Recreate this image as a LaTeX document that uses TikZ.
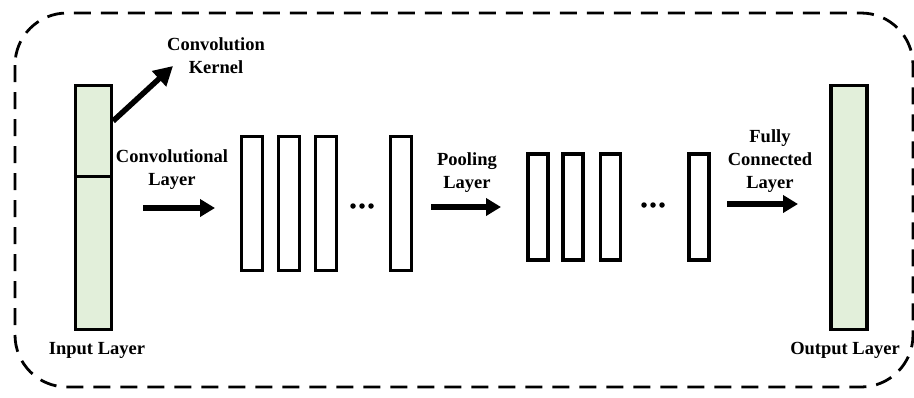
\documentclass[tikz,border=0pt]{standalone}
\usepackage{fontspec}
\setmainfont{Liberation Serif}
\usetikzlibrary{arrows.meta}
\definecolor{layergreen}{HTML}{E2EFDA}
\begin{document}
\begin{tikzpicture}[x=1pt,y=-1pt,
  layer/.style={draw,line width=3.2pt,fill=layergreen,minimum width=36pt,inner sep=0pt},
  fmap/.style={draw,line width=3.2pt,fill=white,inner sep=0pt},
  lbl/.style={font=\bfseries\fontsize{18.5}{23}\selectfont,align=center,inner sep=0pt},
  dot/.style={circle,fill,inner sep=0pt,minimum size=5.5pt},
  bigarrow/.style={line width=5.5pt,-{Triangle[length=15pt,width=17pt]}},
  frame/.style={line width=2.8pt,dash pattern=on 17pt off 10pt,rounded corners=52pt}]
\useasboundingbox (0,0) rectangle (914,397);
% dashed outline
\draw[frame] (15,13) rectangle (913,387);
% input and output layers
\node[layer,minimum height=244pt] (in) at (93.5,207.5) {};
\draw[line width=3pt] (in.west |- 0,176) -- (in.east |- 0,176);
\node[layer,minimum height=244pt] (out) at (849,207.5) {};
\node[lbl] (inl) at (97,350) {Input Layer};
\node[lbl] (outl) at (845,350) {Output Layer};
% convolution kernel
\coordinate (k0) at (in.east |- 0,121);
\coordinate (k1) at (173,66);
\draw[line width=5.5pt,-{Triangle[length=19pt,width=20pt]}] (k0) -- (k1);
\node[lbl] (kl) at (216,55.5) {Convolution\\Kernel};
% convolutional feature maps
\foreach \n/\x in {c1/252,c2/289,c3/326,c4/401}
  \node[fmap,minimum width=21pt,minimum height=134pt] (\n) at (\x,203.5) {};
\foreach \n/\x in {cd1/353,cd2/362,cd3/371}
  \node[dot] (\n) at (\x,206) {};
\node[lbl] (cl) at (172,169.5) {Convolutional\\Layer};
\coordinate (a1s) at (143,208);
\coordinate (a1e) at (215,208);
\draw[bigarrow] (a1s) -- (a1e);
% pooled feature maps
\foreach \n/\x in {p1/538,p2/573,p3/610.5,p4/699}
  \node[fmap,minimum width=20pt,minimum height=106pt] (\n) at (\x,207) {};
\foreach \n/\x in {pd1/644,pd2/653,pd3/662}
  \node[dot] (\n) at (\x,205) {};
\node[lbl] (pl) at (467,172.5) {Pooling\\Layer};
\coordinate (a2s) at (431,207);
\coordinate (a2e) at (501,207);
\draw[bigarrow] (a2s) -- (a2e);
% fully connected
\node[lbl] (fl) at (770,161) {Fully\\Connected\\Layer};
\coordinate (a3s) at (727,204);
\coordinate (a3e) at (798,204);
\draw[bigarrow] (a3s) -- (a3e);
\end{tikzpicture}
\end{document}
